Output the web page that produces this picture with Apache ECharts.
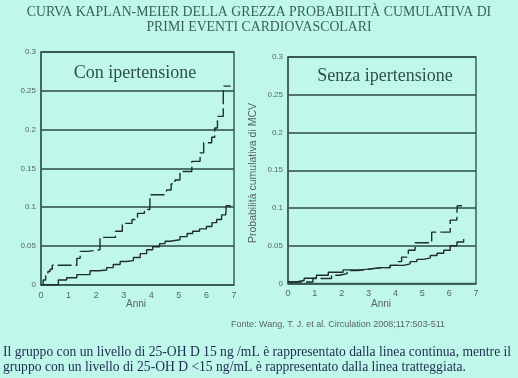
<!DOCTYPE html>
<html><head><meta charset="utf-8">
<script src="https://cdn.jsdelivr.net/npm/echarts@6/dist/echarts.min.js"></script>
<style>html,body{margin:0;padding:0;background:#bff8ea}#c{width:518px;height:378px}</style>
</head><body><div id="c"></div>
<script>
// tick labels
const xTicks = [0,1,2,3,4,5,6,7];
const yTicks = [0,0.05,0.1,0.15,0.2,0.25,0.3];
// Con ipertensione: solid (>=15 ng/mL) and dashed (<15 ng/mL) step curves [year, probability]
const conSolid = [[0,0],[0.63,0],[0.63,0.006],[0.93,0.009],[1.3,0.013],[1.78,0.018],[2.1,0.019],[2.38,0.022],[2.62,0.026],[2.87,0.03],[3.1,0.031],[3.35,0.035],[3.6,0.04],[3.83,0.045],[4.05,0.049],[4.3,0.053],[4.5,0.056],[4.68,0.058],[5.04,0.062],[5.3,0.066],[5.5,0.069],[5.75,0.072],[6.0,0.075],[6.2,0.08],[6.37,0.084],[6.55,0.09],[6.7,0.092],[6.72,0.102],[6.86,0.1]];
const conDashed = [[0,0],[0.08,0.006],[0.17,0.012],[0.25,0.017],[0.33,0.02],[0.41,0.025],[1.11,0.025],[1.3,0.034],[1.42,0.043],[1.7,0.045],[2.14,0.061],[2.5,0.061],[2.7,0.069],[2.95,0.079],[3.3,0.084],[3.5,0.092],[3.75,0.097],[3.95,0.116],[4.5,0.116],[4.56,0.122],[4.72,0.13],[4.86,0.135],[5.04,0.146],[5.47,0.159],[5.77,0.17],[5.9,0.183],[6.19,0.19],[6.3,0.202],[6.4,0.217],[6.61,0.241],[6.62,0.256],[6.88,0.256]];
// Senza ipertensione
const senSolid = [[0,0.002],[0.3,0.004],[0.6,0.007],[1.06,0.011],[1.5,0.015],[2.05,0.018],[2.68,0.019],[3.0,0.021],[3.5,0.021],[3.8,0.024],[4.3,0.026],[4.55,0.029],[4.8,0.032],[5.05,0.034],[5.3,0.037],[5.55,0.04],[5.8,0.044],[6.04,0.05],[6.29,0.055],[6.54,0.059]];
const senDashed = [[0,0.002],[0.68,0.002],[0.93,0.0066],[1.62,0.0066],[1.62,0.011],[1.92,0.013],[2.2,0.017],[2.6,0.019],[3.0,0.021],[3.5,0.021],[3.8,0.024],[4.05,0.029],[4.23,0.035],[4.48,0.044],[4.73,0.054],[5.04,0.054],[5.35,0.068],[5.73,0.068],[6.04,0.084],[6.29,0.092],[6.3,0.103],[6.48,0.103]];

const titleLines = ["CURVA KAPLAN-MEIER DELLA GREZZA PROBABILITÀ CUMULATIVA DI","PRIMI EVENTI CARDIOVASCOLARI"];
const panelTitles = ["Con ipertensione","Senza ipertensione"];
const noteLines = ["Il gruppo con un livello di 25-OH D 15 ng /mL è rappresentato dalla linea continua, mentre il","gruppo con un livello di 25-OH D <15 ng/mL è rappresentato dalla linea tratteggiata."];
const sourceText = "Fonte: Wang, T. J. et al. Circulation 2008;117:503-511";
const yName = "Probabilità cumulativa di MCV";
const xName = "Anni";

const frame = '#3c5f59', grid = '#2c4a45', curve = '#1f2d2b', lab = '#5a6462';
const chart = echarts.init(document.getElementById('c'));
function xAx(i){return {gridIndex:i,type:'value',min:0,max:7,interval:1,
  axisLine:{show:true,lineStyle:{color:frame,width:1.5}},axisTick:{show:false},splitLine:{show:false},
  axisLabel:{color:lab,fontSize:9,fontFamily:'Liberation Sans',margin:6,formatter:v=>xTicks.includes(v)?String(v):''}};}
function yAx(i){return {gridIndex:i,type:'value',min:0,max:0.3,interval:0.05,
  axisLine:{show:true,lineStyle:{color:frame,width:1.5}},axisTick:{show:false},
  splitLine:{show:true,lineStyle:{color:grid,width:1.5}},
  axisLabel:{color:lab,fontSize:8,fontFamily:'Liberation Sans',margin:5,
    formatter:v=>{const t=yTicks.find(k=>Math.abs(k-v)<1e-9);return t===undefined?'':String(t);}}};}
function ser(d,i,dashed){return {type:'line',xAxisIndex:i,yAxisIndex:i,step:'end',data:d,symbol:'none',
  lineStyle:{color:curve,width:1.4,type:dashed?[14,4]:'solid'},z:5};}
chart.setOption({
  backgroundColor:'#bff8ea',animation:false,
  grid:[{left:41,top:52,width:193,height:232.7,show:true,borderColor:frame,borderWidth:1.5},
        {left:288,top:57,width:188,height:226.5,show:true,borderColor:frame,borderWidth:1.5}],
  xAxis:[xAx(0),xAx(1)],yAxis:[yAx(0),yAx(1)],
  series:[ser(conSolid,0,false),ser(conDashed,0,true),ser(senSolid,1,false),ser(senDashed,1,true)],
  graphic:[
    {type:'text',left:'center',top:5,style:{text:titleLines[0],fill:'#3a605a',font:'13.8px "Liberation Serif"'}},
    {type:'text',left:'center',top:20,style:{text:titleLines[1],fill:'#3a605a',font:'13.8px "Liberation Serif"'}},
    {type:'text',x:135,y:73,style:{text:panelTitles[0],fill:'#2f504b',font:'18px "Liberation Serif"',align:'center',verticalAlign:'middle'}},
    {type:'text',x:385,y:76,style:{text:panelTitles[1],fill:'#2f504b',font:'18px "Liberation Serif"',align:'center',verticalAlign:'middle'}},
    {type:'text',x:136,y:304,style:{text:xName,fill:lab,font:'10px "Liberation Sans"',align:'center',verticalAlign:'middle'}},
    {type:'text',x:381,y:304,style:{text:xName,fill:lab,font:'10px "Liberation Sans"',align:'center',verticalAlign:'middle'}},
    {type:'text',x:253,y:173,rotation:Math.PI/2,style:{text:yName,fill:lab,font:'10.5px "Liberation Sans"',align:'center',verticalAlign:'middle'}},
    {type:'text',x:338,y:325,style:{text:sourceText,fill:lab,font:'9px "Liberation Sans"',align:'center',verticalAlign:'middle'}},
    {type:'text',x:3,y:352,style:{text:noteLines[0],fill:'#1c2a50',font:'13.6px "Liberation Serif"',verticalAlign:'middle'}},
    {type:'text',x:3,y:367,style:{text:noteLines[1],fill:'#1c2a50',font:'13.6px "Liberation Serif"',verticalAlign:'middle'}}
  ]
});
</script></body></html>
